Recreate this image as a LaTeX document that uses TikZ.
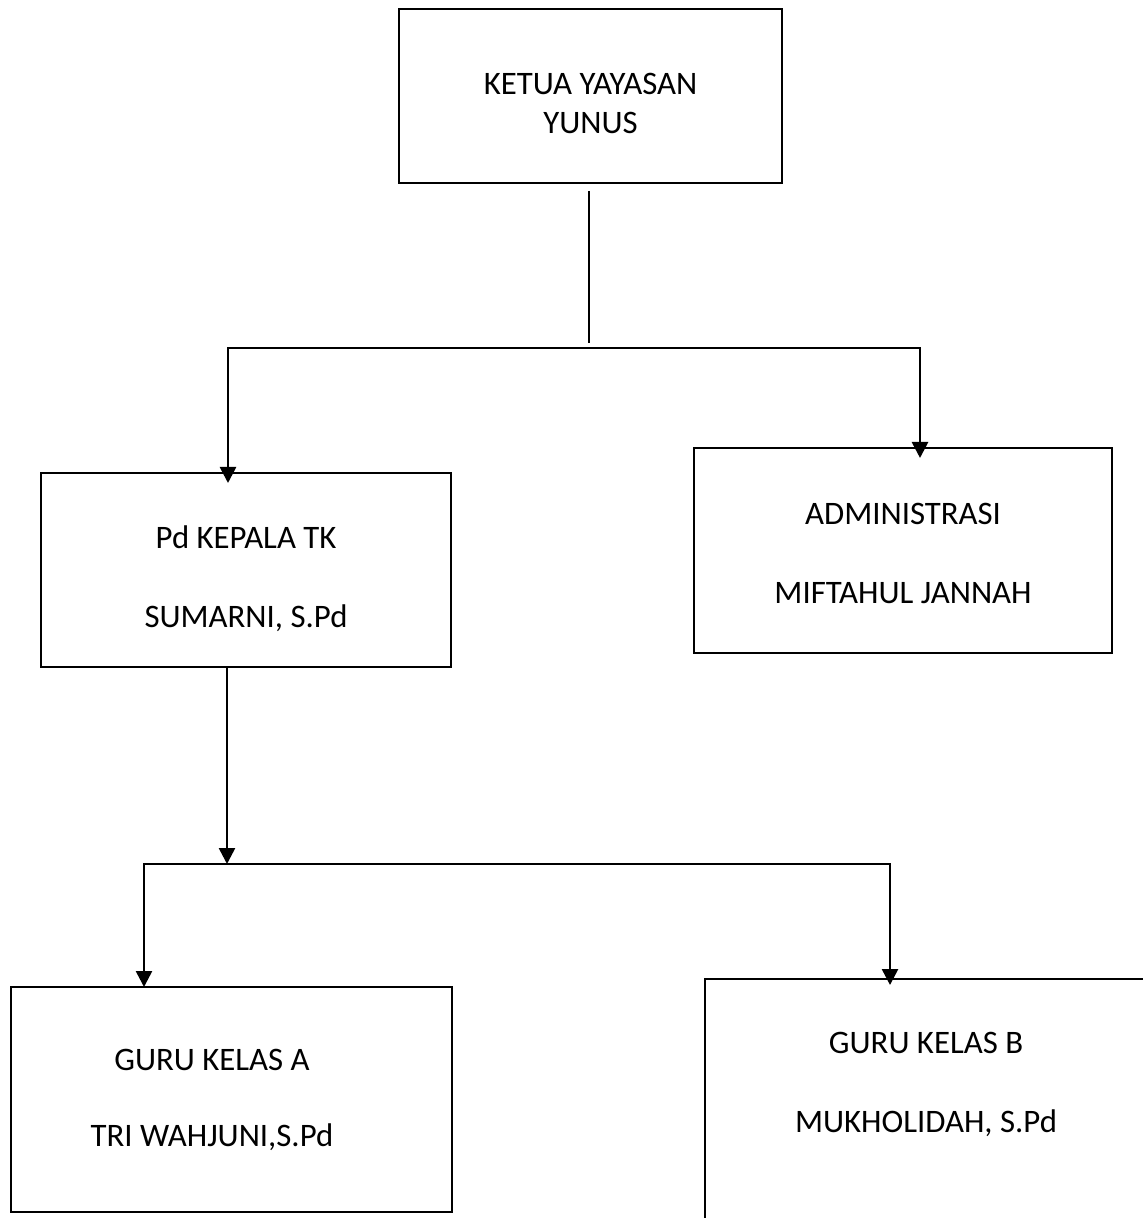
\documentclass[tikz,border=0pt]{standalone}
\usepackage{fontspec}
\setmainfont{Carlito}
\usepackage{tikz}
\usetikzlibrary{arrows.meta,positioning}
\tikzset{box/.style={draw, line width=1pt, inner sep=0pt},
txt/.style={align=center, font=\fontsize{16.4}{19.5}\selectfont},
arr/.style={line width=1.3pt, -{Triangle[length=8pt,width=8pt]}}
}

\begin{document}
\begin{tikzpicture}[x=0.5pt, y=-0.5pt]
        \useasboundingbox (0,0) rectangle (1143,1218);

        \node[box, minimum width=191.5pt, minimum height=87pt]  (ketua)  at (590.5,96)    {};
        \node[box, minimum width=205pt,   minimum height=97pt]  (kepala) at (246,570)     {};
        \node[box, minimum width=209pt,   minimum height=102.5pt] (admin) at (903,550.5)  {};
        \node[box, minimum width=220.5pt, minimum height=112.5pt] (guruA) at (231.5,1099.5) {};
        \node[box, minimum width=237.5pt, minimum height=145.5pt] (guruB) at (942.5,1124.5) {};

        \node[txt] (ketua text)  at (590.5,103.5) {KETUA YAYASAN\\YUNUS};
        \node[txt] (kepala text) at (246,578.5)   {Pd KEPALA TK\\[20pt]SUMARNI, S.Pd};
        \node[txt] (admin text)  at (903,553.5)   {ADMINISTRASI\\[20pt]MIFTAHUL JANNAH};
        \node[txt] (guruA text)  at (212,1099.5)  {GURU KELAS A\\[18.5pt]TRI WAHJUNI,S.Pd};
        \node[txt] (guruB text)  at (926,1084)    {GURU KELAS B\\[20pt]MUKHOLIDAH, S.Pd};

        \coordinate (fork1) at (589,348);
        \coordinate (fork2) at (227,864);

        \draw[line width=1.3pt] ([yshift=-3.5pt]ketua.south -| fork1) -- ([yshift=2.5pt]fork1);
        \draw[arr] (fork1) -| ([yshift=-5.5pt]228,0 |- kepala.north);
        \draw[arr] (fork1) -| ([yshift=-5.5pt]920,0 |- admin.north);

        \draw[arr] (fork2 |- kepala.south) -- (fork2);
        \draw[arr] (fork2) -| ([yshift=-0.5pt]144,0 |- guruA.north);
        \draw[arr] (fork2) -| ([yshift=-3.5pt]890,0 |- guruB.north);
      \end{tikzpicture}
\end{document}
